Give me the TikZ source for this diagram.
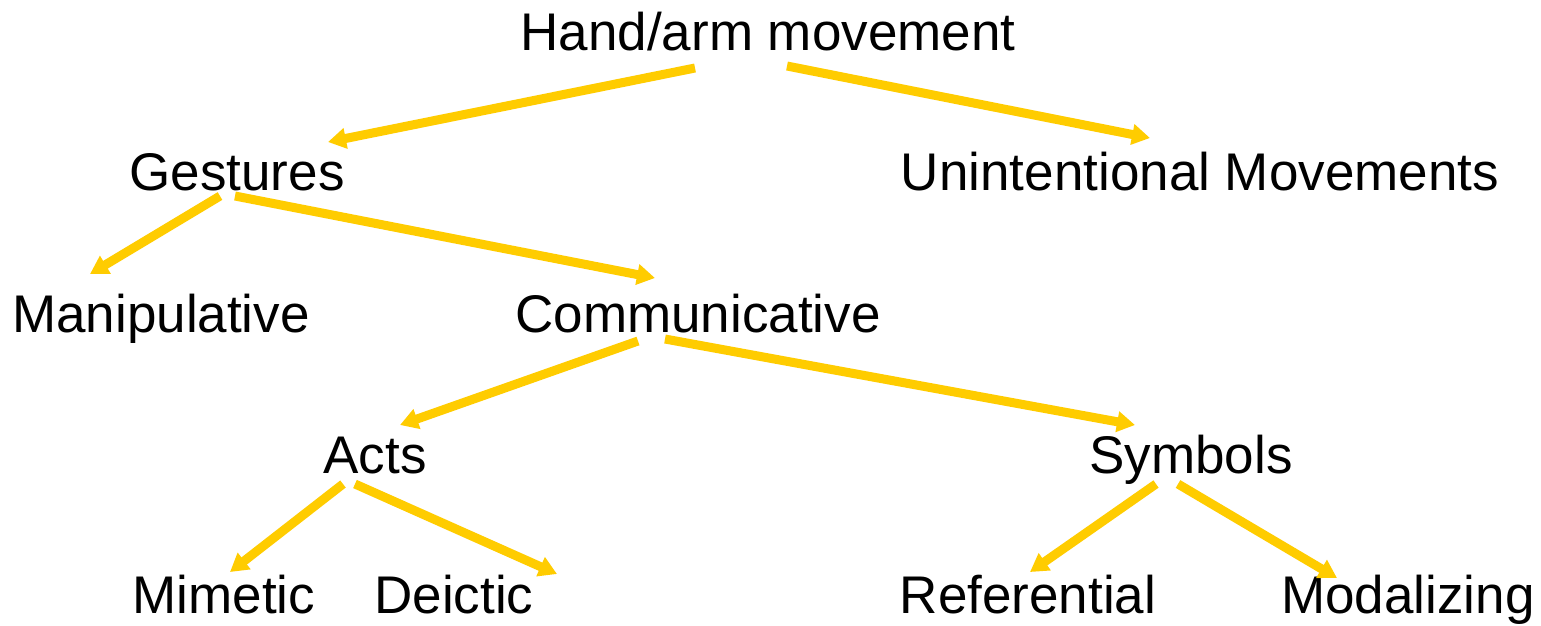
\documentclass[tikz,border=0pt]{standalone}
\usepackage{fontspec}
\setmainfont{Liberation Sans}
\usetikzlibrary{arrows.meta,calc}
\definecolor{arrowyellow}{HTML}{FFCC00}
\tikzset{
  lbl/.style={inner sep=0pt, anchor=base, font=\fontsize{53}{60}\selectfont},
  arr/.style={draw=arrowyellow, line width=9pt, -{Triangle[length=18pt,width=20pt]}}
}
\begin{document}
\begin{tikzpicture}[x=1pt,y=-1pt]
\useasboundingbox[fill=white] (0,0) rectangle (1541,625);
\node[lbl] (hand) at (768,50) {Hand/arm movement};
\node[lbl] (gest) at (237,190) {Gestures};
\node[lbl] (unint) at (1200,190) {Unintentional Movements};
\node[lbl] (manip) at (161,332) {Manipulative};
\node[lbl] (comm) at (698,332) {Communicative};
\node[lbl] (acts) at (375,473) {Acts};
\node[lbl] (symb) at (1191,473) {Symbols};
\node[lbl] (mim) at (224,613) {Mimetic};
\node[lbl] (deic) at (454,613) {Deictic};
\node[lbl] (ref) at (1028,613) {Referential};
\node[lbl] (moda) at (1408,613) {Modalizing};
% connectors
\draw[arr] ($(hand.base)+(-73,18)$) -- ($(gest.base)+(91,-48)$);
\draw[arr] ($(hand.base)+(19,16)$) -- ($(unint.base)+(-50,-52)$);
\draw[arr] ($(gest.base)+(-17,6)$) -- ($(manip.base)+(-71,-58)$);
\draw[arr] ($(gest.base)+(-2,6)$) -- ($(comm.base)+(-43,-54)$);
\draw[arr] ($(comm.base)+(-60,9)$) -- ($(acts.base)+(25,-48)$);
\draw[arr] ($(comm.base)+(-33,7)$) -- ($(symb.base)+(-56,-48)$);
\draw[arr] ($(acts.base)+(-32,11)$) -- ($(mim.base)+(6,-41)$);
\draw[arr] ($(acts.base)+(-20,11)$) -- ($(deic.base)+(103,-39)$);
\draw[arr] ($(symb.base)+(-35,11)$) -- ($(ref.base)+(2,-41)$);
\draw[arr] ($(symb.base)+(-13,11)$) -- ($(moda.base)+(-71,-35)$);
\end{tikzpicture}
\end{document}
